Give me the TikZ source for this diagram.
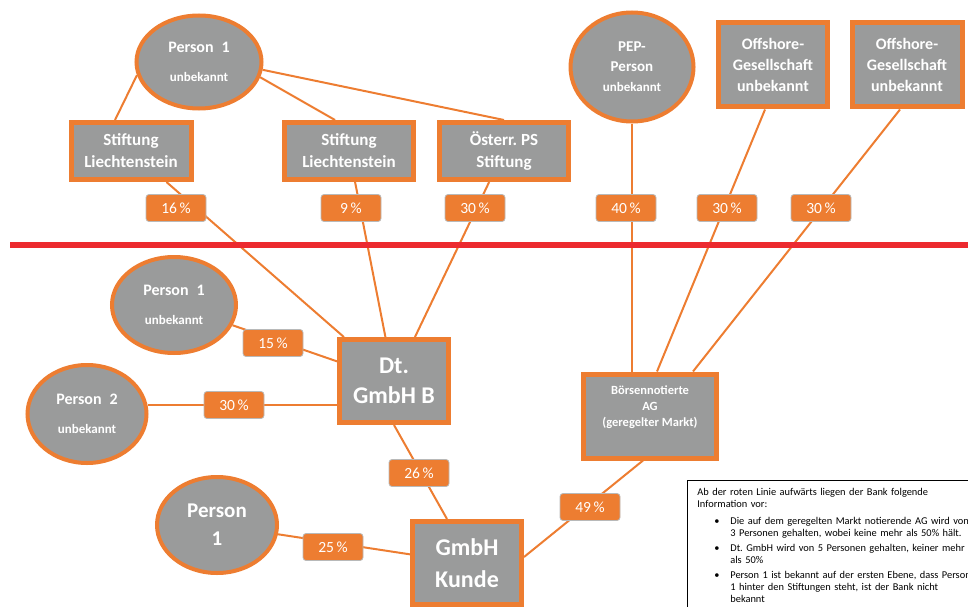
\documentclass[tikz,border=0pt]{standalone}
\usepackage{fontspec}
\setmainfont{Carlito}
\usetikzlibrary{shapes.geometric,positioning}
\frenchspacing

\definecolor{kgray}{HTML}{9A9B9B}
\definecolor{korange}{HTML}{ED7D31}
\definecolor{kred}{HTML}{EC2A2F}

\tikzset{
  entity/.style={rectangle, draw=korange, line width=5pt, fill=kgray, text=white,
    font=\bfseries, align=center, inner sep=1pt},
  person/.style={ellipse, draw=korange, line width=4pt, fill=kgray, text=white,
    font=\bfseries, align=center, inner sep=0pt},
  share/.style={rectangle, rounded corners=3pt, fill=korange, draw=kgray!70,
    line width=0.8pt, text=white, minimum width=60pt, minimum height=27pt,
    inner sep=0pt, font=\fontsize{15.5}{15.5}\selectfont},
  link/.style={draw=korange, line width=2pt},
  redline/.style={draw=kred, line width=6pt},
  infobox/.style={rectangle, draw=black, line width=0.7pt, fill=white, text=black,
    inner xsep=10pt, inner ysep=7pt, anchor=north west, text width=330pt,
    font=\fontsize{10.4}{11.8}\selectfont},
}

\begin{document}
\begin{tikzpicture}[x=1pt, y=-1pt]
\clip (0,0) rectangle (968,607);

% above the red line
\node[person, minimum width=125pt, minimum height=93pt, font=\bfseries\fontsize{16}{20}\selectfont]
  (ownA) at (199,62) {Person\enspace 1\\[9pt]\fontsize{13}{16}\selectfont unbekannt};
\node[entity, minimum width=120pt, minimum height=57pt, font=\bfseries\fontsize{17}{22}\selectfont]
  (stiftA) at (131,151) {Stiftung\\Liechtenstein};
\node[entity, minimum width=129pt, minimum height=57pt, font=\bfseries\fontsize{17}{22}\selectfont]
  (stiftB) at (349,151) {Stiftung\\Liechtenstein};
\node[entity, minimum width=129pt, minimum height=57pt, font=\bfseries\fontsize{17}{22}\selectfont]
  (stiftC) at (504,151) {Österr. PS\\Stiftung};
\node[person, minimum width=123pt, minimum height=109pt, font=\bfseries\fontsize{15}{20}\selectfont]
  (pep) at (632,67) {PEP-\\Person\\\fontsize{13}{16}\selectfont unbekannt};
\node[entity, minimum width=109pt, minimum height=84pt, font=\bfseries\fontsize{16}{21}\selectfont]
  (offA) at (773,65) {Offshore-\\Gesellschaft\\unbekannt};
\node[entity, minimum width=110pt, minimum height=84pt, font=\bfseries\fontsize{16}{21}\selectfont]
  (offB) at (907,65) {Offshore-\\Gesellschaft\\unbekannt};

% below the red line
\node[person, minimum width=124pt, minimum height=96pt, font=\bfseries\fontsize{16}{20}\selectfont]
  (ownB) at (174,305) {Person\enspace 1\\[9pt]\fontsize{13}{16}\selectfont unbekannt};
\node[person, minimum width=119pt, minimum height=98pt, font=\bfseries\fontsize{16}{20}\selectfont]
  (ownC) at (87,414) {Person\enspace 2\\[9pt]\fontsize{13}{16}\selectfont unbekannt};
\node[entity, minimum width=109pt, minimum height=83pt, font=\bfseries\fontsize{24}{30}\selectfont]
  (dtgmbh) at (394,381) {Dt.\\GmbH B};
\node[entity, minimum width=133pt, minimum height=84pt,
  label={[yshift=9pt, text=white, align=center, font=\bfseries\fontsize{12.5}{16}\selectfont]center:Börsennotierte\\AG\\(geregelter Markt)}]
  (ag) at (650,416) {};
\node[entity, minimum width=109pt, minimum height=83pt, font=\bfseries\fontsize{24}{32}\selectfont]
  (kunde) at (467,563) {GmbH\\Kunde};
\node[person, minimum width=120pt, minimum height=96pt, font=\bfseries\fontsize{21}{28}\selectfont]
  (ownD) at (217,525) {Person\\1};

% connectors
\draw[link] (ownA.192) -- ([xshift=-16pt]stiftA.north);
\draw[link] (ownA.-14) -- ([xshift=-14pt]stiftB.north);
\draw[link] (ownA.-7) -- (stiftC.north);
\draw[link] (stiftA) -- (dtgmbh);
\draw[link] (stiftB) -- (dtgmbh);
\draw[link] (stiftC) -- (dtgmbh);
\draw[link] (pep.south) -- ([xshift=-18pt]ag.north);
\draw[link] ([xshift=-8pt]offA.south) -- ([xshift=7pt]ag.north);
\draw[link] ([xshift=-7pt]offB.south) -- ([xshift=43pt]ag.north);
\draw[link] (ownB) -- (dtgmbh);
\draw[link] (ownC.8) -- (ownC.8 -| dtgmbh.west);
\draw[link] (dtgmbh.south) -- ([xshift=-20pt]kunde.north);
\draw[link] (ownD) -- (kunde);
\draw[link] ([xshift=-7pt]ag.south) -- ([yshift=6pt]kunde.east);

% red line
\coordinate (redL) at (10,245);
\coordinate (redR) at (968,245);
\draw[redline] (redL) -- (redR);

% shares
\node[share] (s16) at (176,208) {16\,\%};
\node[share] (s9) at (351,208) {9\,\%};
\node[share] (s30a) at (475,208) {30\,\%};
\node[share] (s40) at (626,208) {40\,\%};
\node[share] (s30b) at (727,208) {30\,\%};
\node[share] (s30c) at (821,208) {30\,\%};
\node[share] (s15) at (273,343) {15\,\%};
\node[share] (s30d) at (234,405) {30\,\%};
\node[share] (s26) at (419,473) {26\,\%};
\node[share] (s49) at (590,507) {49\,\%};
\node[share] (s25) at (333,547) {25\,\%};

% info
\node[infobox] (info) at (687,480) {%
  \begin{tabular}{@{}p{33pt}@{}l@{}}
  \multicolumn{2}{@{}l@{}}{Ab der roten Linie aufwärts liegen der Bank folgende}\\
  \multicolumn{2}{@{}l@{}}{Information vor:}\\[5pt]
  \hspace*{17pt}\textbullet & Die auf dem geregelten Markt notierende AG wird von\\
  & 3 Personen gehalten, wobei keine mehr als 50\% hält.\\[4pt]
  \hspace*{17pt}\textbullet & Dt. GmbH wird von 5 Personen gehalten, keiner mehr\\
  & als 50\%\\[3pt]
  \hspace*{17pt}\textbullet & Person 1 ist bekannt auf der ersten Ebene, dass Person\\
  & 1 hinter den Stiftungen steht, ist der Bank nicht\\
  & bekannt
  \end{tabular}};
\end{tikzpicture}
\end{document}
